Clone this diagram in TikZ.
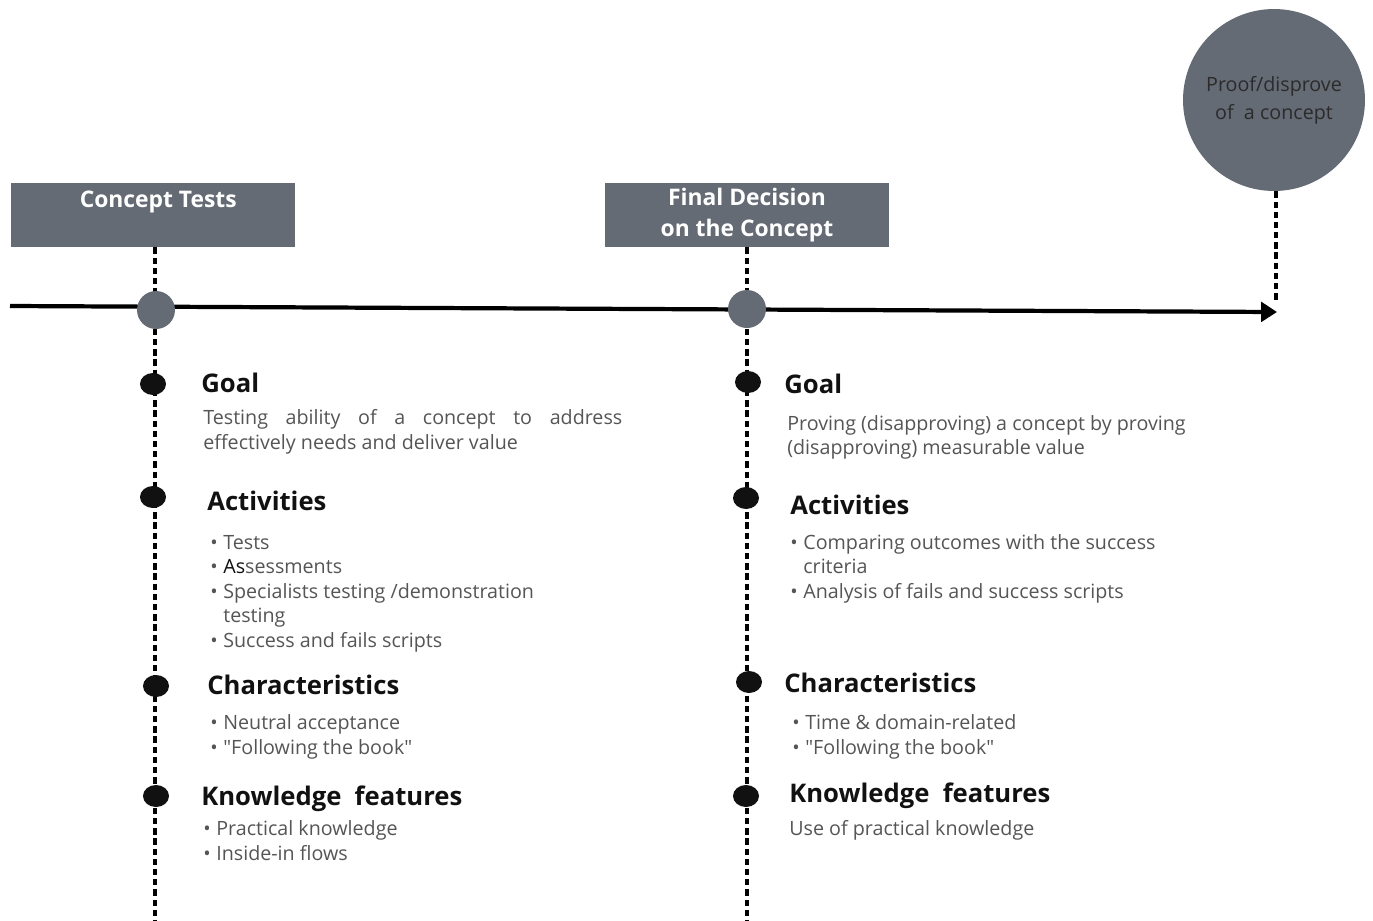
\documentclass[tikz,border=0pt]{standalone}
\usepackage{fontspec}
\setmainfont{Open Sans}[Ligatures=TeXOff]
\usetikzlibrary{shapes.geometric,arrows.meta,backgrounds}
\definecolor{slate}{HTML}{646B74}
\definecolor{bodygray}{HTML}{555555}
\definecolor{headblack}{HTML}{111111}
\definecolor{circtext}{HTML}{2B2B2B}
\newcommand{\bul}{\makebox[0.26cm][l]{\textbullet}}
\newcommand{\cont}{\hspace*{0.26cm}}
\begin{document}
\begin{tikzpicture}[x=0.02cm,y=-0.02cm,
  phasebox/.style={rectangle, fill=slate, minimum width=5.68cm, minimum height=1.28cm,
    inner sep=0pt, text=white, align=center,
    font=\fontsize{13}{18}\selectfont\bfseries},
  bigcirc/.style={circle, fill=slate, minimum size=3.64cm, inner sep=0pt,
    text=circtext, align=center, font=\fontsize{11.2}{15.9}\selectfont},
  milestone/.style={circle, fill=slate, minimum size=0.76cm, inner sep=0pt},
  blackdot/.style={ellipse, fill=headblack, minimum width=0.52cm, minimum height=0.44cm, inner sep=0pt},
  head/.style={anchor=base west, inner sep=0pt, text=headblack,
    font=\fontsize{14.6}{18}\selectfont\bfseries},
  % multi-line text nodes are placed by the baseline of their last line
  txt/.style={anchor=base west, inner sep=0pt, align=left, text=bodygray,
    font=\fontsize{11.2}{13.9}\selectfont},
  dashline/.style={line width=1.8pt, dash pattern=on 3.6pt off 2.2pt, draw=black},
  axis/.style={line width=2.4pt, draw=black, -{Triangle[length=9pt,width=11pt]}}
]
\useasboundingbox (0,0) rectangle (1373,920);

% phase boxes and final circle
\node[phasebox] (ct) at (153,215) {\hspace*{6pt}Concept Tests\\\mbox{}};
\node[phasebox] (fd) at (747,215) {Final Decision\\on the Concept};
\node[bigcirc] (proof) at (1274,100) {Proof/disprove\\of\ \ a concept};

% timeline
\coordinate (tstart) at (10,306);
\coordinate (tend) at (1277,312);
\node[milestone] (m1) at (156,310) {};
\node[milestone] (m2) at (747,309) {};

% ends of the vertical guides
\coordinate (lbot) at (155,920);
\coordinate (rbot) at (747,920);
\coordinate (ptip) at (1276,300);

% dots on the left guide
\node[blackdot] (lg) at (153,384) {};
\node[blackdot] (la) at (153,497) {};
\node[blackdot] (lc) at (156,686) {};
\node[blackdot] (lk) at (156,796) {};
% dots on the right guide
\node[blackdot] (rg) at (748,382) {};
\node[blackdot] (ra) at (746,498) {};
\node[blackdot] (rc) at (749,682) {};
\node[blackdot] (rk) at (746,796) {};

\begin{scope}[on background layer]
  \draw[dashline] (ct.south -| lbot) -- (lbot);
  \draw[dashline] (fd.south) -- (rbot);
  \draw[dashline] (proof.south -| ptip) -- (ptip);
  \draw[axis] (tstart) -- (tend);
\end{scope}

% left column
\node[head] (lgh) at (201,392) {Goal};
\node[txt, font=\fontsize{11.2}{14.2}\selectfont] (lgt) at (203,449)
  {\makebox[8.38cm][s]{Testing ability of a concept to address}\\effectively needs and deliver value};
\node[head] (lah) at (207,510) {Activities};
\node[txt] (lat) at (210,647)
  {\bul Tests\\\bul{\color{headblack}As}sessments\\\bul Specialists testing /demonstration\\\cont testing\\\bul Success and fails scripts};
\node[head] (lch) at (207,694) {Characteristics};
\node[txt] (lct) at (210,754) {\bul Neutral acceptance\\\bul "Following the book"};
\node[head] (lkh) at (201,805) {Knowledge\ \ features};
\node[txt] (lkt) at (203,860) {\bul Practical knowledge\\\bul Inside-in flows};

% right column
\node[head] (rgh) at (784,393) {Goal};
\node[txt, font=\fontsize{11.2}{13.6}\selectfont] (rgt) at (787,454)
  {Proving (disapproving) a concept by proving\\(disapproving) measurable value};
\node[head] (rah) at (790,514) {Activities};
\node[txt] (rat) at (790,598)
  {\bul Comparing outcomes with the success\\\cont criteria\\\bul Analysis of fails and success scripts};
\node[head] (rch) at (784,692) {Characteristics};
\node[txt] (rct) at (792,754) {\bul Time \& domain-related\\\bul "Following the book"};
\node[head] (rkh) at (789,802) {Knowledge\ \ features};
\node[txt] (rkt) at (789,835) {Use of practical knowledge};
\end{tikzpicture}
\end{document}
